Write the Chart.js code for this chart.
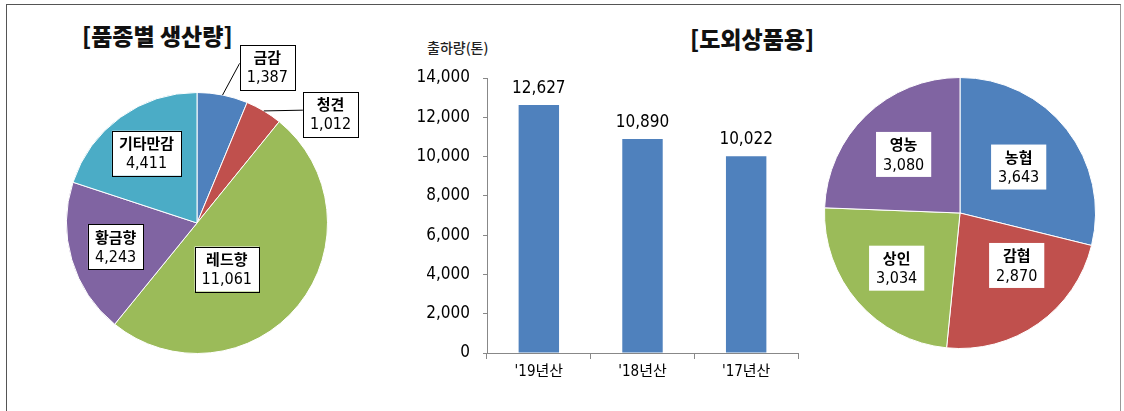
<!DOCTYPE html>
<html>
<head>
<meta charset="utf-8">
<script src="https://cdn.jsdelivr.net/npm/chart.js@4/dist/chart.umd.min.js"></script>
<style>
  body { margin: 0; background: #fff; width: 1124px; height: 411px; overflow: hidden; position: relative; font-family: 'Noto Sans CJK KR', sans-serif; }
  .frame { position: absolute; left: 6px; top: 4px; width: 1113px; height: 420px; border: 1px solid #555; border-bottom: none; border-right-color: #999; }
  .box { position: absolute; }
  .title { position: absolute; font-weight: 900; font-size: 23px; color: #111; white-space: nowrap; }
  .unit { position: absolute; font-size: 14px; font-weight: 500; color: #222; white-space: nowrap; }
</style>
</head>
<body>
<div class="frame"></div>
<div class="title" style="left:82px; top:18px;">[품종별 생산량]</div>
<div class="title" style="left:690px; top:21px;">[도외상품용]</div>
<div class="unit" style="left:427px; top:37px;">출하량(톤)</div>

<div class="box" style="left:0px; top:0px;"><canvas id="pieVariety" width="380" height="411"></canvas></div>
<div class="box" style="left:400px; top:60px;"><canvas id="barShip" width="410" height="330"></canvas></div>
<div class="box" style="left:820px; top:60px;"><canvas id="pieBuyer" width="290" height="310"></canvas></div>

<script>
// 품종별 생산량
const varietyNames = ['금감', '청견', '레드향', '황금향', '기타만감'];
const varietyValues = [1387, 1012, 11061, 4243, 4411];

// 출하량(톤)
const shipYears = ["'19년산", "'18년산", "'17년산"];
const shipValues = [12627, 10890, 10022];

// 도외상품용
const buyerNames = ['농협', '감협', '상인', '영농'];
const buyerValues = [3643, 2870, 3034, 3080];

const palette = ['#4F81BD', '#C0504D', '#9BBB59', '#8064A2', '#4BACC6'];
const NUM_FONT = "'Liberation Sans Narrow', 'DejaVu Sans Condensed', 'Noto Sans CJK KR', sans-serif";
const fmt = v => v.toLocaleString('en-US');

// boxed labels for pie slices
const pieLabels = {
    id: 'pieLabels',
    afterDatasetsDraw(chart, args, opts) {
        const ctx = chart.ctx;
        const meta = chart.getDatasetMeta(0);
        const names = chart.data.labels;
        const vals = chart.data.datasets[0].data;
        meta.data.forEach((arc, i) => {
            const p = arc.getProps(['x', 'y', 'startAngle', 'endAngle', 'outerRadius'], true);
            const mid = (p.startAngle + p.endAngle) / 2;
            const pl = opts.place[i];
            const a = mid + pl.da * Math.PI / 180;
            const cx = p.x + Math.cos(a) * p.outerRadius * pl.r;
            const cy = p.y + Math.sin(a) * p.outerRadius * pl.r;

            ctx.save();
            ctx.font = "bold 15px 'Noto Sans CJK KR'";
            const w1 = ctx.measureText(names[i]).width;
            ctx.font = '16px ' + NUM_FONT;
            const w2 = ctx.measureText(fmt(vals[i])).width;
            const bw = Math.max(w1, w2) + 14;
            const bh = 45;
            const bx = cx - bw / 2, by = cy - bh / 2;

            if (pl.leader) {
                ctx.strokeStyle = '#000';
                ctx.lineWidth = 1;
                ctx.beginPath();
                ctx.moveTo(p.x + Math.cos(mid) * p.outerRadius, p.y + Math.sin(mid) * p.outerRadius);
                ctx.lineTo(bx, cy - 4);
                ctx.stroke();
            }
            ctx.fillStyle = '#fff';
            ctx.fillRect(bx, by, bw, bh);
            if (opts.border) {
                ctx.strokeStyle = '#000';
                ctx.lineWidth = 1;
                ctx.strokeRect(Math.round(bx) + 0.5, Math.round(by) + 0.5, Math.round(bw), bh);
            }
            ctx.fillStyle = '#000';
            ctx.textAlign = 'center';
            ctx.textBaseline = 'middle';
            ctx.font = "bold 15px 'Noto Sans CJK KR'";
            ctx.fillText(names[i], cx, cy - 10);
            ctx.font = '16px ' + NUM_FONT;
            ctx.fillText(fmt(vals[i]), cx, cy + 11);
            ctx.restore();
        });
    }
};

// value labels above bars
const barValueLabels = {
    id: 'barValueLabels',
    afterDatasetsDraw(chart) {
        const ctx = chart.ctx;
        const meta = chart.getDatasetMeta(0);
        ctx.save();
        ctx.font = '17px ' + NUM_FONT;
        ctx.fillStyle = '#000';
        ctx.textAlign = 'center';
        ctx.textBaseline = 'bottom';
        meta.data.forEach((bar, i) => {
            ctx.fillText(fmt(chart.data.datasets[0].data[i]), bar.x, bar.y - 8);
        });
        ctx.restore();
    }
};

new Chart(document.getElementById('pieVariety'), {
    type: 'pie',
    data: {
        labels: varietyNames,
        datasets: [{ data: varietyValues, backgroundColor: palette, borderColor: '#fff', borderWidth: 1 }]
    },
    options: {
        responsive: false,
        animation: false,
        layout: { padding: { left: 66, right: 52, top: 92, bottom: 57 } },
        plugins: {
            legend: { display: false },
            tooltip: { enabled: false },
            pieLabels: {
                border: true,
                place: [
                    { r: 1.31, da: 13, leader: true },
                    { r: 1.32, da: 20, leader: true },
                    { r: 0.42, da: 18 },
                    { r: 0.65, da: 0 },
                    { r: 0.66, da: 0 }
                ]
            }
        }
    },
    plugins: [pieLabels]
});

new Chart(document.getElementById('barShip'), {
    type: 'bar',
    data: {
        labels: shipYears,
        datasets: [{ data: shipValues, backgroundColor: '#4F81BD', categoryPercentage: 1, barPercentage: 0.39 }]
    },
    options: {
        responsive: false,
        animation: false,
        layout: { padding: { top: 18, right: 12, left: 0, bottom: 0 } },
        plugins: { legend: { display: false }, tooltip: { enabled: false } },
        scales: {
            x: {
                grid: { offset: true, drawOnChartArea: false, tickLength: 6, color: '#888' },
                border: { color: '#888' },
                ticks: { color: '#000', padding: 4, font: { size: 15, family: NUM_FONT } },
                afterFit(s) { s.height = 37; }
            },
            y: {
                min: 0,
                max: 14000,
                grid: { drawOnChartArea: false, tickLength: 4, color: '#888' },
                border: { color: '#888' },
                ticks: { stepSize: 2000, color: '#000', padding: 13, font: { size: 17, family: NUM_FONT }, callback: v => fmt(v) },
                afterFit(s) { s.width = 87; s.paddingTop = 0; s.paddingBottom = 0; }
            }
        }
    },
    plugins: [barValueLabels]
});

new Chart(document.getElementById('pieBuyer'), {
    type: 'pie',
    data: {
        labels: buyerNames,
        datasets: [{ data: buyerValues, backgroundColor: palette.slice(0, 4), borderColor: '#fff', borderWidth: 1 }]
    },
    options: {
        responsive: false,
        animation: false,
        layout: { padding: { left: 4, right: 14, top: 17, bottom: 21 } },
        plugins: {
            legend: { display: false },
            tooltip: { enabled: false },
            pieLabels: {
                border: false,
                place: [
                    { r: 0.55, da: 0 },
                    { r: 0.57, da: -12 },
                    { r: 0.62, da: 0 },
                    { r: 0.6, da: 0 }
                ]
            }
        }
    },
    plugins: [pieLabels]
});
</script>
</body>
</html>
